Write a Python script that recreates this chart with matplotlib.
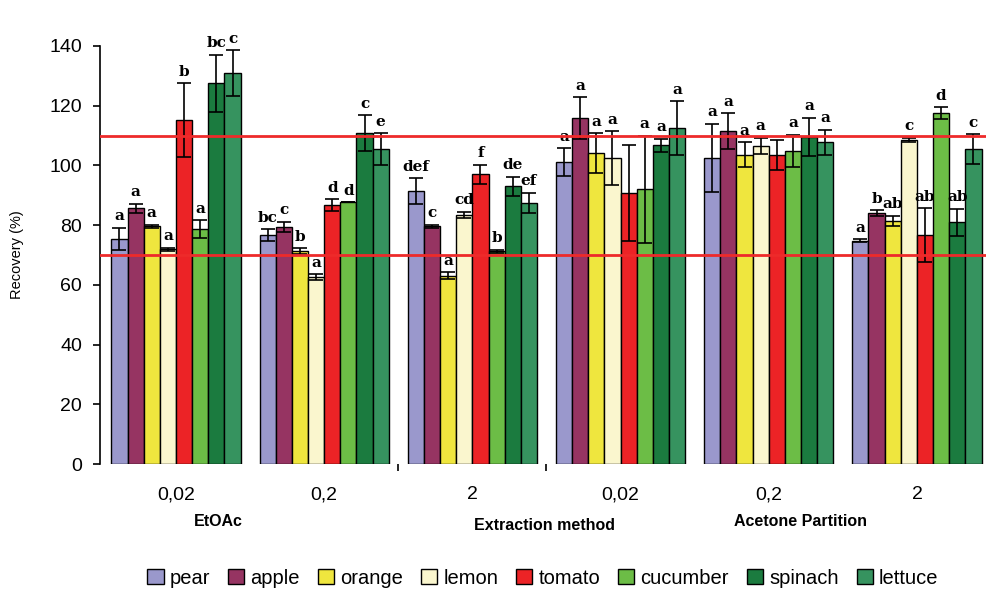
import matplotlib
matplotlib.use("Agg")
import matplotlib.pyplot as plt
import numpy as np

plt.rcParams['font.family'] = ['Liberation Sans', 'DejaVu Sans']

# concentration levels on the x axis (two extraction methods, 3 levels each)
levels = ['0,02', '0,2', '2', '0,02', '0,2', '2']
fruits = ['pear', 'apple', 'orange', 'lemon', 'tomato', 'cucumber', 'spinach', 'lettuce']
colors = ['#9A98CC', '#963462', '#EFE63E', '#FAF6CE', '#EC2326', '#6CBD46', '#1B7B3F', '#36935F']

# recovery (%) per fruit over the 6 levels
pear = [75.5, 76.7, 91.4, 101.0, 102.5, 74.7]
apple = [85.7, 79.4, 79.7, 115.9, 111.5, 84.0]
orange = [79.7, 71.3, 63.0, 104.0, 103.5, 81.4]
lemon = [72.0, 62.5, 83.5, 102.4, 106.5, 108.5]
tomato = [115.2, 86.7, 97.1, 90.7, 103.5, 76.7]
cucumber = [78.7, 87.7, 71.3, 92.0, 104.8, 117.5]
spinach = [127.5, 110.8, 93.0, 106.8, 109.5, 81.0]
lettuce = [130.9, 105.4, 87.4, 112.5, 107.8, 105.5]

# standard deviations
pear_err = [3.7, 2.0, 4.3, 4.7, 11.5, 0.5]
apple_err = [1.5, 1.7, 0.5, 7.0, 6.0, 1.0]
orange_err = [0.5, 1.0, 1.2, 6.7, 4.2, 1.7]
lemon_err = [0.5, 1.0, 1.0, 9.0, 2.7, 0.7]
tomato_err = [12.4, 2.0, 3.2, 16.0, 5.0, 9.0]
cucumber_err = [3.0, 0.0, 0.5, 18.0, 5.5, 2.0]
spinach_err = [9.5, 6.0, 3.2, 2.2, 6.4, 4.5]
lettuce_err = [7.7, 5.3, 3.5, 9.0, 4.2, 5.0]

# significance letters
pear_lab = ['a', 'bc', 'def', 'a', 'a', 'a']
apple_lab = ['a', 'c', 'c', 'a', 'a', 'b']
orange_lab = ['a', 'b', 'a', 'a', 'a', 'ab']
lemon_lab = ['a', 'a', 'cd', 'a', 'a', 'c']
tomato_lab = ['b', 'd', 'f', '', '', 'ab']
cucumber_lab = ['a', 'd', 'b', 'a', 'a', 'd']
spinach_lab = ['bc', 'c', 'de', 'a', 'a', 'ab']
lettuce_lab = ['c', 'e', 'ef', 'a', 'a', 'c']

values = [pear, apple, orange, lemon, tomato, cucumber, spinach, lettuce]
errors = [pear_err, apple_err, orange_err, lemon_err, tomato_err, cucumber_err, spinach_err, lettuce_err]
letters = [pear_lab, apple_lab, orange_lab, lemon_lab, tomato_lab, cucumber_lab, spinach_lab, lettuce_lab]

fig = plt.figure(figsize=(9.86, 5.93), dpi=100)
ax = fig.add_axes([0.1014, 0.2175, 0.8986, 0.705])

x = np.arange(len(levels))
w = 0.109
for i in range(len(fruits)):
    pos = x + (i - 3.5) * w
    ax.bar(pos, values[i], w, color=colors[i], edgecolor='black', linewidth=1.0,
           label=fruits[i], zorder=2)
    ax.errorbar(pos, values[i], yerr=errors[i], fmt='none', ecolor='black',
                elinewidth=1.2, capsize=5, capthick=1.2, zorder=3)
    for j in range(len(levels)):
        ax.text(pos[j], values[i][j] + errors[i][j] + 1.5, letters[i][j],
                ha='center', va='bottom', fontsize=11, fontweight='bold',
                family=['DejaVu Serif'], clip_on=False, zorder=4)

# acceptable recovery range 70-110 %
ax.axhline(110, color='#EE2A2A', lw=2, zorder=5)
ax.axhline(70, color='#EE2A2A', lw=2, zorder=5)

ax.set_xlim(-0.513, 5.466)
ax.set_ylim(0, 140)
ax.set_yticks(np.arange(0, 141, 20))
ax.tick_params(axis='y', labelsize=14, length=5, width=1.2, direction='out', pad=8)
ax.set_xticks(x)
ax.set_xticklabels(levels, fontsize=14)
ax.tick_params(axis='x', length=0, pad=16)
ax.set_xticks([1.5, 2.5], minor=True)
ax.tick_params(axis='x', which='minor', length=5, width=1.2)
for s in ['top', 'right', 'bottom']:
    ax.spines[s].set_visible(False)
ax.spines['left'].set_linewidth(1.2)
ax.set_ylabel('Recovery (%)', fontsize=10.5, labelpad=18)

fig.text(218 / 986, 1 - 522 / 593, 'EtOAc', ha='center', va='center', fontsize=11.5, fontweight='bold')
fig.text(545 / 986, 1 - 525 / 593, 'Extraction method', ha='center', va='center', fontsize=11.5, fontweight='bold')
fig.text(800 / 986, 1 - 522 / 593, 'Acetone Partition', ha='center', va='center', fontsize=11.5, fontweight='bold')

fig.legend(loc='center', bbox_to_anchor=(543 / 986, 1 - 578 / 593), ncol=8, frameon=False,
           fontsize=14.5, handlelength=0.8, handleheight=0.8, handletextpad=0.3,
           columnspacing=0.9)

fig.savefig('out.png', dpi=100)
